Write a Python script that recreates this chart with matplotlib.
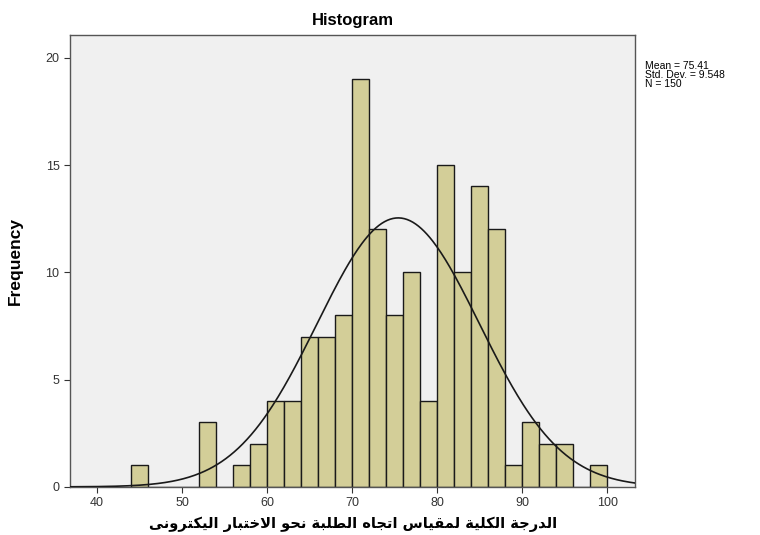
import numpy as np
import matplotlib
matplotlib.use('agg')
import matplotlib.pyplot as plt

# histogram data (bin width 2, first bin starts at 44)
bin_start = 44
bin_width = 2
counts = [1, 0, 0, 0, 3, 0, 1, 2, 4, 4, 7, 7, 8, 19, 12, 8, 10, 4, 15, 10, 14, 12, 1, 3, 2, 2, 0, 1]
mean = 75.41
std = 9.548
n = 150
x_ticks = [40, 50, 60, 70, 80, 90, 100]
y_ticks = [0, 5, 10, 15, 20]
title = 'Histogram'
ylabel = 'Frequency'
xlabel = 'الدرجة الكلية لمقياس اتجاه الطلبة نحو الاختبار اليكترونى'

# tiny arabic shaper: (isolated, final, initial, medial); right-joining only have 2 forms
forms = {
    'ا': (0xFE8D, 0xFE8E), 'ب': (0xFE8F, 0xFE90, 0xFE91, 0xFE92), 'ة': (0xFE93, 0xFE94),
    'ت': (0xFE95, 0xFE96, 0xFE97, 0xFE98), 'ج': (0xFE9D, 0xFE9E, 0xFE9F, 0xFEA0),
    'ح': (0xFEA1, 0xFEA2, 0xFEA3, 0xFEA4), 'خ': (0xFEA5, 0xFEA6, 0xFEA7, 0xFEA8),
    'د': (0xFEA9, 0xFEAA), 'ر': (0xFEAD, 0xFEAE), 'س': (0xFEB1, 0xFEB2, 0xFEB3, 0xFEB4),
    'ط': (0xFEC1, 0xFEC2, 0xFEC3, 0xFEC4), 'ق': (0xFED5, 0xFED6, 0xFED7, 0xFED8),
    'ك': (0xFED9, 0xFEDA, 0xFEDB, 0xFEDC), 'ل': (0xFEDD, 0xFEDE, 0xFEDF, 0xFEE0),
    'م': (0xFEE1, 0xFEE2, 0xFEE3, 0xFEE4), 'ن': (0xFEE5, 0xFEE6, 0xFEE7, 0xFEE8),
    'ه': (0xFEE9, 0xFEEA, 0xFEEB, 0xFEEC), 'و': (0xFEED, 0xFEEE), 'ى': (0xFEEF, 0xFEF0),
    'ي': (0xFEF1, 0xFEF2, 0xFEF3, 0xFEF4),
}


def shape_word(w):
    letters = []
    i = 0
    while i < len(w):
        if w[i] == 'ل' and i + 1 < len(w) and w[i + 1] == 'ا':
            letters.append('LA')
            i += 2
        else:
            letters.append(w[i])
            i += 1
    out = []
    for k, ch in enumerate(letters):
        prev = letters[k - 1] if k > 0 else None
        nxt = letters[k + 1] if k + 1 < len(letters) else None
        join_prev = prev is not None and prev != 'LA' and len(forms[prev]) == 4
        if ch == 'LA':
            out.append(chr(0xFEFC if join_prev else 0xFEFB))
            continue
        f = forms[ch]
        join_next = nxt is not None and len(f) == 4
        if join_prev and join_next:
            out.append(chr(f[3]))
        elif join_prev:
            out.append(chr(f[1]))
        elif join_next:
            out.append(chr(f[2]))
        else:
            out.append(chr(f[0]))
    return ''.join(out)


def shape(text):
    shaped = ' '.join(shape_word(w) for w in text.split(' '))
    return shaped[::-1]


edges = [bin_start + i * bin_width for i in range(len(counts))]

fig = plt.figure(figsize=(7.6, 5.35), dpi=100)
ax = fig.add_axes([0.092, 0.090, 0.744, 0.845])
ax.set_facecolor('#F0F0F0')

ax.bar(edges, counts, width=bin_width, align='edge', color='#D3CE98',
       edgecolor='#1a1a1a', linewidth=1.0, zorder=2)

xs = np.linspace(36.8, 103.3, 400)
ys = n * bin_width / (std * np.sqrt(2 * np.pi)) * np.exp(-0.5 * ((xs - mean) / std) ** 2)
ax.plot(xs, ys, color='#1a1a1a', linewidth=1.2, zorder=3)

ax.set_xlim(36.8, 103.3)
ax.set_ylim(0, 21.07)
ax.set_xticks(x_ticks)
ax.set_yticks(y_ticks)
ax.tick_params(direction='out', length=4, width=0.8, colors='#333333', labelsize=9)
for lab in ax.get_xticklabels() + ax.get_yticklabels():
    lab.set_fontfamily('Liberation Sans')
for s in ax.spines.values():
    s.set_color('#555555')
    s.set_linewidth(1.0)

ax.set_title(title, fontsize=12, fontweight='bold', family='Liberation Sans', pad=7)
ax.set_ylabel(ylabel, fontsize=12.5, fontweight='bold',
              family=['Liberation Sans Narrow', 'Liberation Sans'], labelpad=16)
ax.set_xlabel(shape(xlabel), fontsize=10.5, fontweight='bold', family='DejaVu Sans', labelpad=5)

fig.text(0.849, 0.886, 'Mean = %.2f\nStd. Dev. = %.3f\nN = %d' % (mean, std, n),
         fontsize=7.5, family='Liberation Sans', va='top', ha='left', linespacing=0.9)

fig.savefig('out.png', dpi=100)
